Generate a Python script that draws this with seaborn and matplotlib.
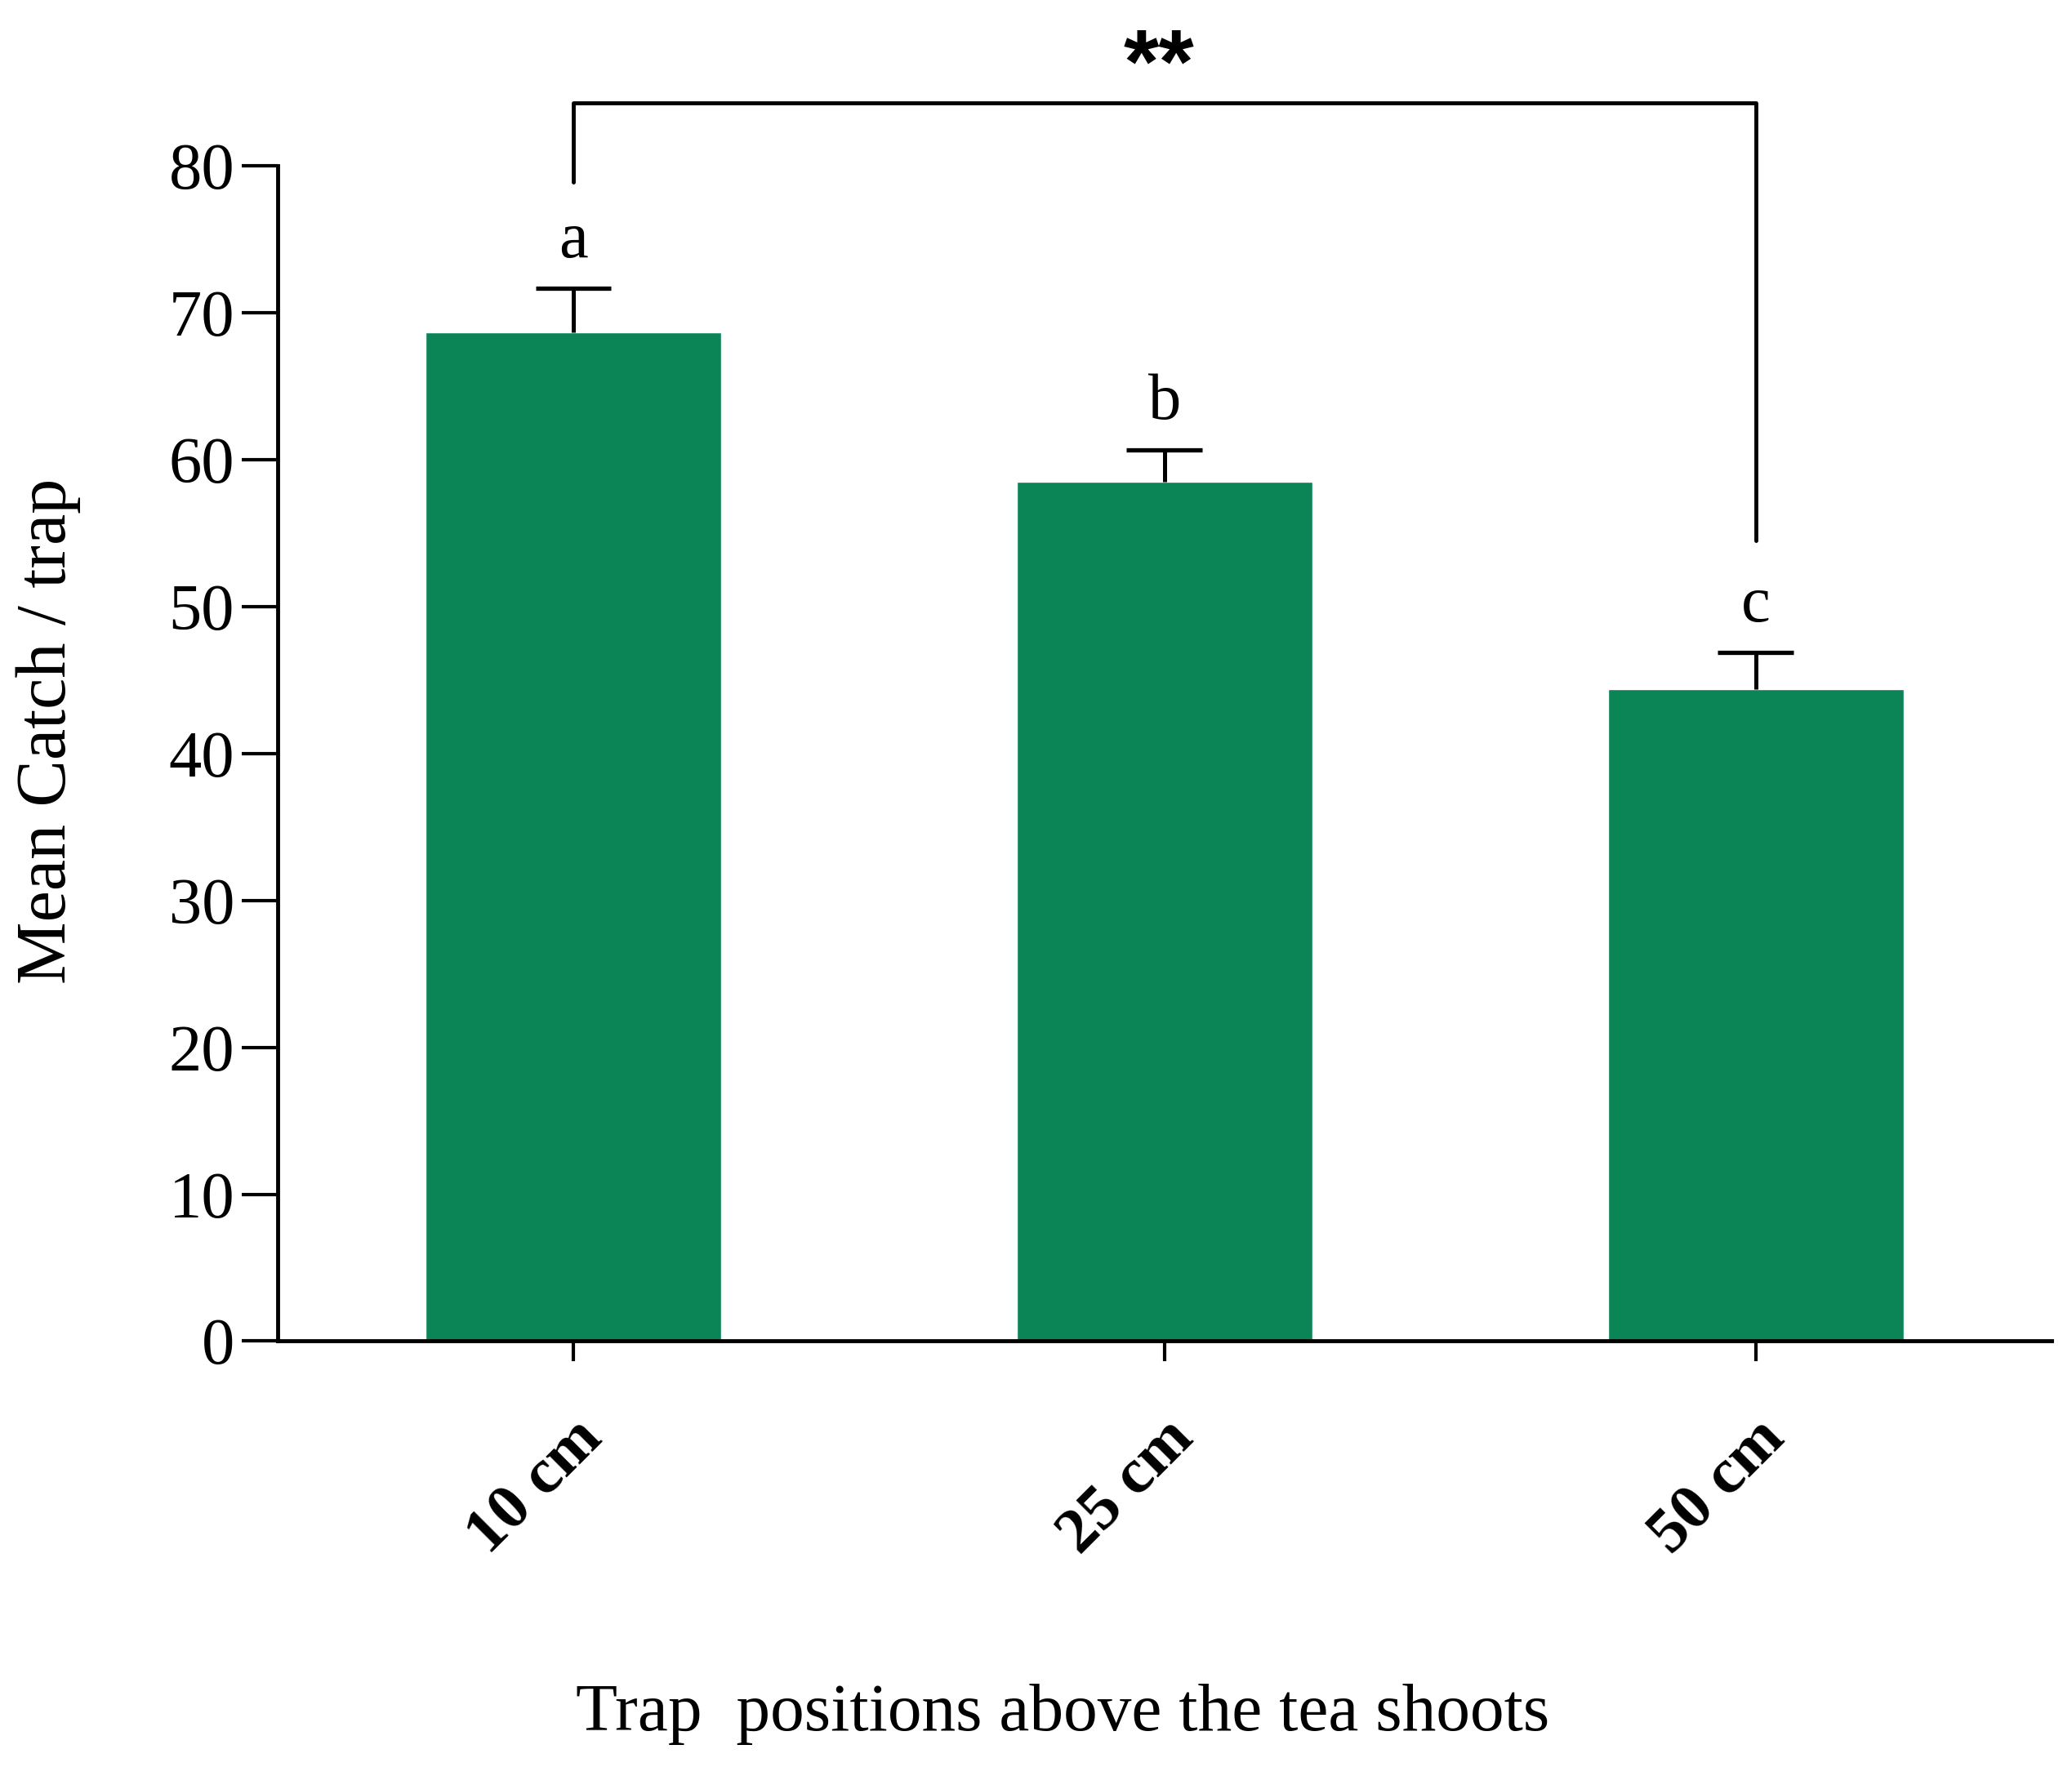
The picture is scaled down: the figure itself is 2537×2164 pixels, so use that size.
import matplotlib
matplotlib.use("Agg")
import matplotlib.pyplot as plt
import seaborn as sns
import pandas as pd
import numpy as np

categories = ["10 cm", "25 cm", "50 cm"]
means = [68.7, 58.5, 44.4]
sems = [3.0, 2.2, 2.5]
letters = ["a", "b", "c"]
y_ticks = [0, 10, 20, 30, 40, 50, 60, 70, 80]

bar_color = "#0b8456"

sns.set_theme(style="white")
plt.rcParams['font.family'] = ['Liberation Serif', 'DejaVu Serif']
plt.rcParams['text.color'] = 'black'
plt.rcParams['axes.labelcolor'] = 'black'
plt.rcParams['xtick.color'] = 'black'
plt.rcParams['ytick.color'] = 'black'

df = pd.DataFrame({"position": categories, "mean": means})

fig = plt.figure(figsize=(25.37, 21.64), dpi=100)
ax = fig.add_axes([0.134, 0.241, 0.856, 0.665])

sns.barplot(data=df, x="position", y="mean", color=bar_color, width=0.5,
            saturation=1, errorbar=None, ax=ax)

xpos = np.arange(len(categories))
tops = np.array(means) + np.array(sems)
ax.vlines(xpos, means, tops, color="black", lw=3.6, zorder=3)
ax.hlines(tops, xpos - 0.064, xpos + 0.064, color="black", lw=3.8, zorder=3)

ax.set_xlim(-0.5, 2.5)
ax.set_ylim(0, 80)
ax.set_yticks(y_ticks)
ax.set_yticklabels([str(t) for t in y_ticks], fontsize=58)

for s in ["top", "right"]:
    ax.spines[s].set_visible(False)
for s in ["left", "bottom"]:
    ax.spines[s].set_linewidth(3.5)
    ax.spines[s].set_color("black")

ax.tick_params(axis="y", direction="out", length=32, width=3, color="black", pad=6, left=True)
ax.tick_params(axis="x", direction="out", length=18, width=3, color="black", pad=42, bottom=True)

ax.set_xticks(xpos)
ax.set_xticklabels(categories, fontsize=57, fontweight="bold", rotation=45,
                   ha="right", rotation_mode="anchor")

ax.set_xlabel("")
ax.set_ylabel("Mean Catch / trap", fontsize=62)
ax.yaxis.set_label_coords(-0.111, 0.519)
fig.text(0.513, 0.03, "Trap  positions above the tea shoots", fontsize=60,
         ha="center", va="center")

# significance letters
for x, t, l in zip(xpos, tops, letters):
    ax.text(x, t + 2.1, l, ha="center", va="baseline", fontsize=58)

# bracket
ax.plot([0, 0, 2, 2], [78.9, 84.3, 84.3, 54.5], color="black", lw=3.5,
        clip_on=False, solid_joinstyle="round")
ax.text(0.99, 86.6, "**", ha="center", va="center", fontsize=80,
        fontweight="bold", family=["Liberation Sans", "DejaVu Sans"])

fig.savefig("out.png", dpi=100, facecolor="white")
